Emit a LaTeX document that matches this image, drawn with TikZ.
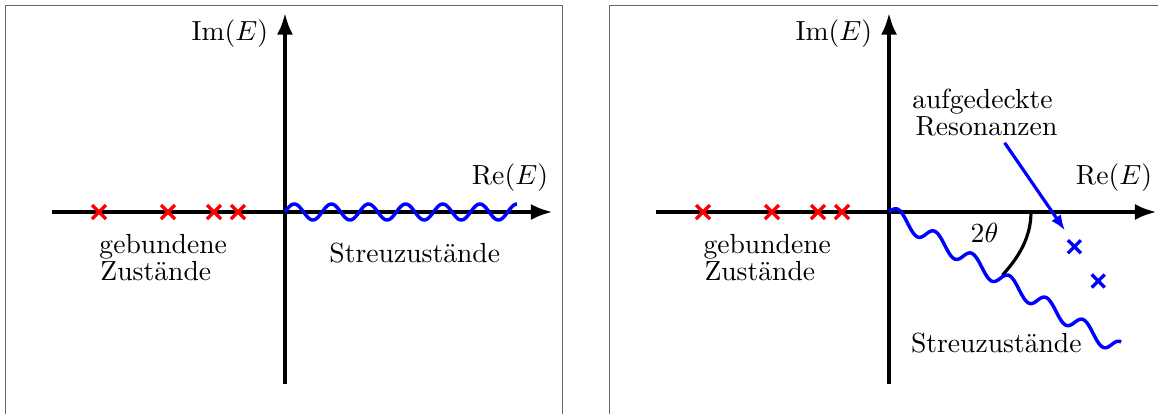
\documentclass[tikz,border=0pt]{standalone}
\usetikzlibrary{arrows.meta}
\begin{document}
\begin{tikzpicture}[x=0.362pt,y=0.362pt,
  axis/.style={line width=1.6pt,-{Latex[length=8pt,width=5.8pt]}},
  frame/.style={draw=black!60,line width=0.4pt},
  wave/.style={blue,line width=1.25pt},
  lbl/.style={inner sep=0pt,outer sep=0pt},
  redx/.style={red,line width=1.2pt},
  bluex/.style={blue,line width=1.2pt},
  angarc/.style={black,line width=1.15pt},
  pointer/.style={blue,line width=1.15pt,-{Latex[length=5.6pt,width=4.2pt]}}]
\useasboundingbox (-285,-202) rectangle (873,212);
% ---------- left panel ----------
\begin{scope}
  \draw[frame] (-279.3,-202) -- (-279.3,206.3) -- (277.7,206.3) -- (277.7,-202);
  \coordinate (Lx0) at (-233,0); \coordinate (Lx1) at (268,0);
  \coordinate (Ly0) at (0,-172); \coordinate (Ly1) at (0,199.5);
  \draw[axis] (Lx0) -- (Lx1);
  \draw[axis] (Ly0) -- (Ly1);
  \draw[wave] plot[domain=0:232,samples=250] (\x,{8*sin(9.6983*\x)});
  \foreach \p/\n in {-186/a,-117/b,-71/c,-47/d}{
    \coordinate (L\n) at (\p,0);
    \draw[redx] (L\n) ++(-7,-7) -- ++(14,14) (L\n) ++(-7,7) -- ++(14,-14);
  }
  \node[lbl,anchor=base east] (Lim) at (-17,172) {$\mathrm{Im}(E)$};
  \node[lbl,anchor=base east] (Lre) at (263,28) {$\mathrm{Re}(E)$};
  \node[lbl,anchor=base west] (Lgeb) at (-185.5,-41.5) {gebundene};
  \node[lbl,anchor=base west] (Lzus) at (-184.5,-68) {Zustände};
  \node[lbl,anchor=base west] (Lstr) at (44.5,-50.5) {Streuzustände};
\end{scope}
% ---------- right panel ----------
\begin{scope}[shift={(604,0)}]
  \draw[frame] (-279.3,-202) -- (-279.3,206.3) -- (269,206.3);
  \coordinate (Rx0) at (-233,0); \coordinate (Rx1) at (268,0);
  \coordinate (Ry0) at (0,-172); \coordinate (Ry1) at (0,199.5);
  \draw[axis] (Rx0) -- (Rx1);
  \draw[axis] (Ry0) -- (Ry1);
  \coordinate (Ra0) at (142,0);
  \coordinate (Ra1) at (113.5,-63);
  \draw[angarc] (Ra0) .. controls (142,-25) and (130,-45) .. (Ra1);
  \draw[wave] plot[domain=0:232,samples=250] (\x,{-0.595*\x+8*sin(9.6983*\x)});
  \foreach \p/\n in {-186/a,-117/b,-71/c,-47/d}{
    \coordinate (R\n) at (\p,0);
    \draw[redx] (R\n) ++(-7,-7) -- ++(14,14) (R\n) ++(-7,7) -- ++(14,-14);
  }
  \coordinate (B1) at (185.4,-34.7);
  \coordinate (B2) at (209.2,-69);
  \foreach \n in {B1,B2}{
    \draw[bluex] (\n) ++(-6.5,-6.5) -- ++(13,13) (\n) ++(-6.5,6.5) -- ++(13,-13);
  }
  \node[lbl,anchor=base east] (Rim) at (-17,172) {$\mathrm{Im}(E)$};
  \node[lbl,anchor=base east] (Rre) at (263,28) {$\mathrm{Re}(E)$};
  \node[lbl,anchor=base west] (Rgeb) at (-185.5,-41.5) {gebundene};
  \node[lbl,anchor=base west] (Rzus) at (-184.5,-68) {Zustände};
  \node[lbl,anchor=base] (Rauf) at (93.5,104) {aufgedeckte};
  \node[lbl,anchor=base] (Rres) at (97.5,77) {Resonanzen};
  \node[lbl,anchor=base west] (Rth) at (81.7,-30.5) {$2\theta$};
  \node[lbl,anchor=base west] (Rstr) at (22,-140) {Streuzustände};
  \coordinate (Ps) at (115.6,69.3);
  \coordinate (Pe) at (176,-18.5);
  \draw[pointer] (Ps) -- (Pe);
\end{scope}
\end{tikzpicture}
\end{document}
